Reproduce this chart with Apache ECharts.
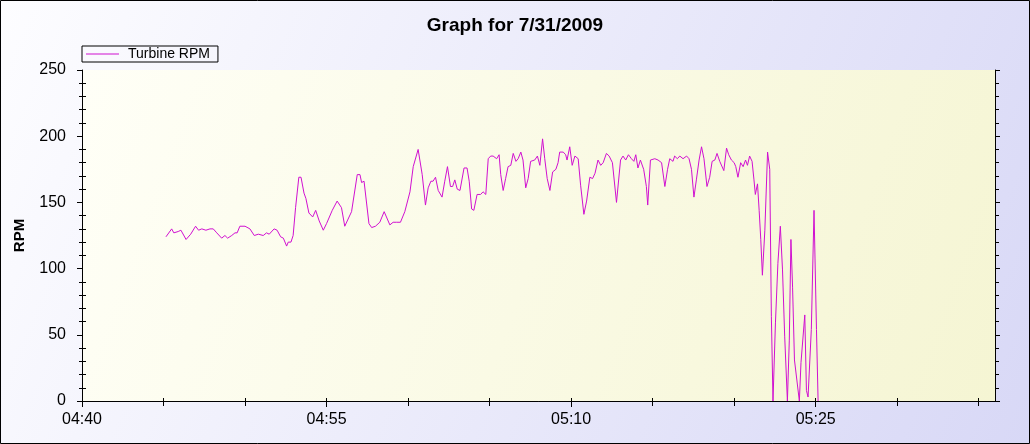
<!DOCTYPE html>
<html><head><meta charset="utf-8">
<script src="https://cdn.jsdelivr.net/npm/echarts@6/dist/echarts.min.js"></script>
<style>html,body{margin:0;padding:0;background:#fff}#c{width:1030px;height:444px}</style>
</head><body><div id="c"></div>
<script>
const chartTitle = 'Graph for 7/31/2009';
const seriesName = 'Turbine RPM';
const yName = 'RPM';
const times = [
'04:45:09','04:45:30','04:45:38','04:45:54','04:46:04','04:46:23','04:46:40','04:46:47','04:46:58','04:47:09',
'04:47:21','04:47:36','04:47:51','04:48:03','04:48:16','04:48:34','04:48:46','04:48:56','04:49:11','04:49:23',
'04:49:31','04:49:41','04:50:00','04:50:18','04:50:34','04:50:49','04:51:07','04:51:19','04:51:29','04:51:47',
'04:51:58','04:52:11','04:52:21','04:52:27','04:52:33','04:52:39','04:52:49','04:52:57','04:53:06','04:53:18',
'04:53:26','04:53:37','04:53:44','04:53:55','04:54:09','04:54:20','04:54:33','04:54:48','04:55:00','04:55:21',
'04:55:39','04:55:55','04:56:07','04:56:32','04:56:53','04:57:03','04:57:09','04:57:18','04:57:36','04:57:46',
'04:58:00','04:58:16','04:58:32','04:58:39','04:58:53','04:59:05','04:59:18','04:59:32','04:59:48','05:00:07',
'05:00:19','05:00:37','05:00:52','05:01:04','05:01:14','05:01:24','05:01:32','05:01:41','05:01:51','05:02:05',
'05:02:15','05:02:25','05:02:36','05:02:44','05:02:52','05:03:01','05:03:11','05:03:26','05:03:37','05:03:45',
'05:03:54','05:04:02','05:04:14','05:04:27','05:04:36','05:04:46','05:04:55','05:05:04','05:05:13','05:05:26',
'05:05:35','05:05:41','05:05:50','05:05:59','05:06:08','05:06:18','05:06:27','05:06:37','05:06:45','05:06:55',
'05:07:03','05:07:13','05:07:22','05:07:31','05:07:46','05:07:56','05:08:05','05:08:15','05:08:23','05:08:32',
'05:08:42','05:08:52','05:09:04','05:09:12','05:09:18','05:09:31','05:09:40','05:09:45','05:09:55','05:10:04',
'05:10:14','05:10:26','05:10:35','05:10:47','05:10:57','05:11:09','05:11:19','05:11:28','05:11:39','05:11:49',
'05:11:58','05:12:10','05:12:20','05:12:32','05:12:47','05:13:02','05:13:11','05:13:21','05:13:31','05:13:42',
'05:13:51','05:13:58','05:14:06','05:14:15','05:14:27','05:14:37','05:14:42','05:14:52','05:15:08','05:15:20',
'05:15:33','05:15:45','05:15:55','05:16:03','05:16:15','05:16:21','05:16:31','05:16:40','05:16:52','05:17:05',
'05:17:14','05:17:23','05:17:32','05:17:41','05:17:51','05:18:00','05:18:09','05:18:20','05:18:30','05:18:39',
'05:18:49','05:18:57','05:19:07','05:19:13','05:19:22','05:19:32','05:19:40','05:19:50','05:20:00','05:20:06',
'05:20:14','05:20:24','05:20:33','05:20:42','05:20:49','05:20:57','05:21:06','05:21:13','05:21:18','05:21:26',
'05:21:32','05:21:38','05:21:44','05:21:53','05:22:03','05:22:11','05:22:17','05:22:23','05:22:32','05:22:41',
'05:22:50','05:22:58','05:23:06','05:23:16','05:23:23','05:23:29','05:23:35','05:23:42','05:24:00','05:24:06',
'05:24:20','05:24:26','05:24:32','05:24:44','05:24:54','05:25:03','05:25:09'
];
const rpm = [
124,130,127,128,129,122,126,127,132,129,
130,129,130,130,127,123,125,123,125,127,
127,132,132,130,125,126,125,127,126,130,
129,124,123,124,117,120,120,125,146,169,
169,157,153,142,139,144,136,129,134,144,
151,146,132,143,171,171,165,166,134,131,
132,135,143,142,133,135,135,135,143,158,
177,190,171,148,161,166,166,169,159,154,
166,177,162,162,167,160,159,176,176,166,
145,144,156,156,158,156,183,185,185,183,
186,171,159,168,177,178,187,181,183,188,
182,161,168,181,182,185,178,198,183,168,
159,173,175,180,188,188,186,182,192,178,
185,183,163,141,151,169,168,172,182,178,
180,187,185,180,150,182,185,182,186,183,
181,186,176,182,175,162,148,182,183,182,
180,162,175,183,181,185,183,185,183,185,
183,175,154,167,182,192,183,162,169,181,
182,187,181,180,174,191,186,182,180,177,
169,180,177,182,178,185,181,167,156,164,
144,122,95,129,188,175,64,0,59,104,
132,99,49,0,46,122,86,31,0,29,
65,8,3,54,144,54,0
];
const xLabels = ['04:40','04:55','05:10','05:25'];
const xRange = ['04:40','05:36'];
const xTickStepMin = 5;
const yTicks = [0,50,100,150,200,250];

function sec(t){const p=t.split(':').map(Number);return p[0]*3600+p[1]*60+(p[2]||0);}
function pad(n){return (n<10?'0':'')+n;}
function fmt(s){s=Math.round(s);return pad(Math.floor(s/3600))+':'+pad(Math.floor((s%3600)/60));}

const xMin = sec(xRange[0]), xMax = sec(xRange[1]);
const tickVals = [];
for (let v = xMin; v < xMax; v += xTickStepMin*60) tickVals.push(v);
const labelVals = xLabels.map(sec);
const data = times.map((t,i)=>[sec(t), rpm[i]]);
const yMin = yTicks[0], yMax = yTicks[yTicks.length-1], yStep = yTicks[1]-yTicks[0];

const FONT = '"Liberation Sans", Arial, sans-serif';
const G = {left:82, top:70, right:35, bottom:43, containLabel:false};
const blk = {color:'#000', width:1};

const baseX = {type:'value', min:xMin, max:xMax, interval:xTickStepMin*60, splitLine:{show:false}};
const baseY = {type:'value', min:yMin, max:yMax, interval:yStep, splitLine:{show:false}};

const chart = echarts.init(document.getElementById('c'), null, {renderer:'canvas'});
chart.setOption({
  animation:false,
  backgroundColor:{type:'linear',x:0,y:0,x2:1,y2:1,colorStops:[{offset:0,color:'#fdfdff'},{offset:1,color:'#d8d8f6'}]},
  title:{text:chartTitle,left:'center',top:11,textStyle:{fontFamily:FONT,fontSize:19,fontWeight:'bold',color:'#000'}},
  legend:{
    left:82, top:46, orient:'horizontal',
    borderColor:'#000', borderWidth:1, padding:[0,8,0,4],
    icon:'rect', itemWidth:33, itemHeight:1,
    textStyle:{fontFamily:FONT,fontSize:14,color:'#000',lineHeight:16,padding:[0,0,0,4]},
    data:[seriesName]
  },
  grid:[
    Object.assign({show:true,borderWidth:0,backgroundColor:{type:'linear',x:0,y:0,x2:1,y2:1,colorStops:[{offset:0,color:'#fffff7'},{offset:1,color:'#f5f5d3'}]}},G),
    Object.assign({},G), Object.assign({},G), Object.assign({},G)
  ],
  xAxis:[
    Object.assign({},baseX,{gridIndex:0,position:'bottom',
      axisLine:{show:true,lineStyle:blk},
      axisTick:{show:true,length:3,customValues:tickVals,lineStyle:blk},
      axisLabel:{show:true,customValues:labelVals,formatter:fmt,fontFamily:FONT,fontSize:16,color:'#000',margin:11}}),
    Object.assign({},baseX,{gridIndex:1,position:'bottom',
      axisLine:{show:false},
      axisTick:{show:true,inside:true,length:3,customValues:tickVals,lineStyle:blk},
      axisLabel:{show:false}}),
    Object.assign({},baseX,{gridIndex:2,position:'top',
      axisLine:{show:true,lineStyle:blk},
      axisTick:{show:true,inside:true,length:5,customValues:tickVals,lineStyle:blk},
      axisLabel:{show:false}}),
    Object.assign({},baseX,{gridIndex:3,position:'bottom',
      axisLine:{show:false},
      axisTick:{show:true,length:6,customValues:labelVals,lineStyle:blk},
      axisLabel:{show:false}})
  ],
  yAxis:[
    Object.assign({},baseY,{gridIndex:0,position:'left',
      axisLine:{show:true,lineStyle:blk},
      axisTick:{show:true,length:5,lineStyle:blk},
      minorTick:{show:true,splitNumber:5,length:3,lineStyle:blk},
      axisLabel:{show:true,fontFamily:FONT,fontSize:16,color:'#000',margin:16},
      name:yName,nameLocation:'middle',nameGap:55,nameRotate:90,
      nameTextStyle:{fontFamily:FONT,fontSize:15,fontWeight:'bold',color:'#000'}}),
    Object.assign({},baseY,{gridIndex:1,position:'left',
      axisLine:{show:false},
      axisTick:{show:false,inside:true},
      minorTick:{show:true,splitNumber:5,length:4,lineStyle:blk},
      axisLabel:{show:false}}),
    Object.assign({},baseY,{gridIndex:2,position:'right',
      axisLine:{show:true,lineStyle:blk},
      axisTick:{show:true,length:5,lineStyle:blk},
      minorTick:{show:true,splitNumber:5,length:4,lineStyle:blk},
      axisLabel:{show:false}}),
    Object.assign({},baseY,{gridIndex:3,show:false})
  ],
  graphic:[{type:'rect',z:100,silent:true,shape:{x:0.5,y:0.5,width:1029,height:443},style:{fill:null,stroke:'#000',lineWidth:1}}],
  series:[{
    name:seriesName, type:'line', xAxisIndex:0, yAxisIndex:0, data:data,
    showSymbol:false, symbol:'none',
    lineStyle:{color:'#d010d0',width:1}, itemStyle:{color:'#d010d0'}
  }]
});
</script></body></html>
